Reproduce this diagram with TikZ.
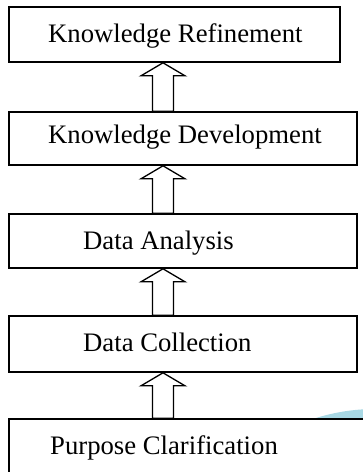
\documentclass[tikz,border=0pt]{standalone}
\usepackage{fontspec}
\setmainfont{Liberation Serif}
\usetikzlibrary{calc}
\definecolor{paleblue}{RGB}{168,216,228}
\tikzset{
  stagebox/.style={draw=black, line width=1.6pt, fill=white, rectangle, inner sep=0pt},
  stagetext/.style={anchor=base west, inner sep=0pt, font=\fontsize{26.7}{30}\selectfont},
  blockarrow/.style={draw=black, line width=1.3pt, fill=white, line join=miter}
}
\begin{document}
\begin{tikzpicture}[x=1pt, y=-1pt]
  \useasboundingbox (0,0) rectangle (363,472);
  \clip (0,0) rectangle (363,472);

  % pale disc behind the lowest stage
  \fill[paleblue] (375,606) circle (197);

  % stage boxes
  \node[stagebox, minimum width=331pt, minimum height=55pt] (refine) at (174.5,34.5) {};
  \node[stagebox, minimum width=348pt, minimum height=53pt] (develop) at (183,138.5) {};
  \node[stagebox, minimum width=348pt, minimum height=54pt] (analysis) at (183,241) {};
  \node[stagebox, minimum width=348pt, minimum height=56pt] (collect) at (183,344) {};
  \node[stagebox, minimum width=362pt, minimum height=82pt] (purpose) at (190,460) {};

  % stage labels
  \node[stagetext] (trefine) at (48,42.7) {Knowledge Refinement};
  \node[stagetext] (tdevelop) at (48,143.3) {Knowledge Development};
  \node[stagetext] (tanalysis) at (83,249.3) {Data Analysis};
  \node[stagetext] (tcollect) at (83,351.7) {Data Collection};
  \node[stagetext] (tpurpose) at (50,454.3) {Purpose Clarification};

  % hollow block arrows between stages
  \coordinate (ax) at (163,0);
  \foreach \lo/\up in {develop/refine, analysis/develop, collect/analysis, purpose/collect}{
    \coordinate (tip) at (ax |- \up.south);
    \coordinate (base) at (ax |- \lo.north);
    \draw[blockarrow] (tip) -- ($(tip)+(22,13)$) -- ($(tip)+(10.5,13)$)
      -- ($(base)+(10.5,0)$) -- ($(base)+(-10.5,0)$)
      -- ($(tip)+(-10.5,13)$) -- ($(tip)+(-22,13)$) -- cycle;
  }
\end{tikzpicture}
\end{document}
